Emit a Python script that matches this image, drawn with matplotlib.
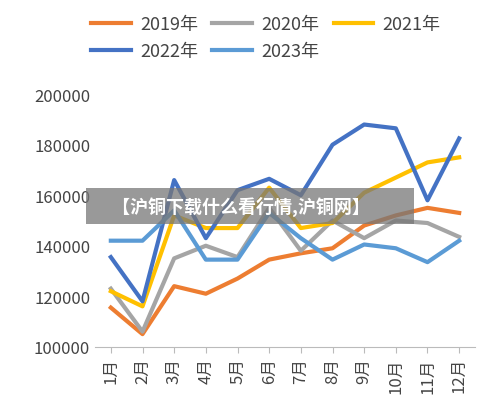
import matplotlib
matplotlib.use("Agg")
import matplotlib.pyplot as plt

plt.rcParams['font.family'] = ['Noto Sans CJK SC', 'DejaVu Sans']

months = ["1月","2月","3月","4月","5月","6月","7月","8月","9月","10月","11月","12月"]
s2019 = [115500,105000,124000,121000,127000,134500,137000,139000,148000,152000,155000,153000]
s2020 = [123000,106000,135000,140000,135500,155000,138000,150000,143000,150000,149000,143500]
s2021 = [122000,116000,152000,147000,147000,163000,147000,149000,161000,167000,173000,175000]
s2022 = [135500,118000,166000,143000,162000,166500,160000,180000,188000,186500,158000,182500]
s2023 = [142000,142000,154000,134500,134500,153000,143000,134500,140500,139000,133500,142000]

series = [("2019年", s2019, "#ED7D31"), ("2020年", s2020, "#A5A5A5"),
          ("2021年", s2021, "#FFC000"), ("2022年", s2022, "#4472C4"),
          ("2023年", s2023, "#5B9BD5")]

fig = plt.figure(figsize=(5.0, 4.14), dpi=100)
ax = fig.add_axes([0.19, 0.16, 0.76, 0.61])
x = range(len(months))
lines = []
for name, vals, c in series:
    ln, = ax.plot(x, vals, color=c, lw=3, label=name)
    lines.append(ln)
ax.set_ylim(100000, 200000)
ax.set_yticks(range(100000, 200001, 20000))
ax.set_xlim(-0.5, 11.5)
ax.set_xticks(list(x))
ax.set_xticklabels(months, rotation=90, fontsize=12, color="#444444")
ax.tick_params(axis='y', labelsize=12, colors="#444444", length=0)
ax.tick_params(axis='x', length=4, color="#bbbbbb")
for s in ["top", "right", "left"]:
    ax.spines[s].set_visible(False)
ax.spines["bottom"].set_color("#bbbbbb")
order = [0, 3, 1, 4, 2]
fig.legend([lines[i] for i in order], [series[i][0] for i in order],
           loc="upper left", bbox_to_anchor=(0.15, 1.0), ncol=3, frameon=False,
           fontsize=13, handlelength=2.2, columnspacing=0.8, handletextpad=0.5,
           labelcolor="#444444")
fig.text(0.5, 0.5, "　【沪铜下载什么看行情,沪铜网】　　", ha="center", va="center",
         fontsize=13, color="white", fontweight="bold",
         bbox=dict(facecolor="#777777", alpha=0.75, edgecolor="none", pad=6))
fig.savefig("out.png", dpi=100)
